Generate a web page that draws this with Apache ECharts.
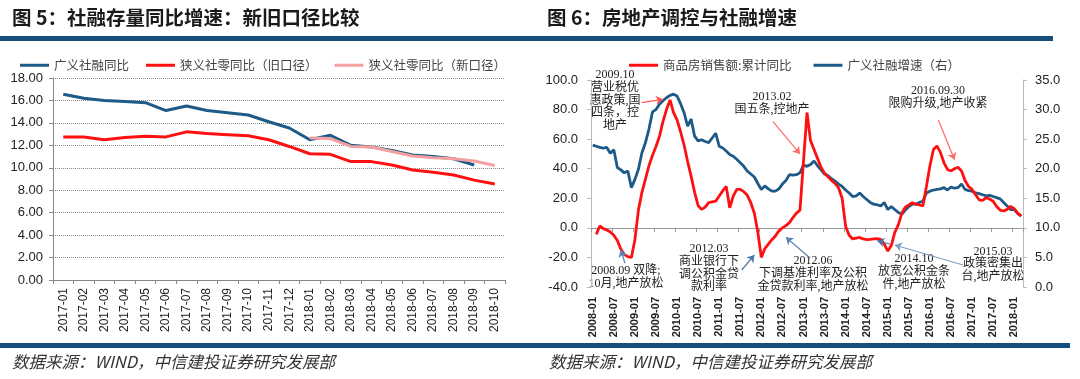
<!DOCTYPE html>
<html><head><meta charset="utf-8">
<script src="https://cdn.jsdelivr.net/npm/echarts@6/dist/echarts.min.js"></script>
<style>html,body{margin:0;padding:0;background:#fff}#c{width:1080px;height:379px}</style>
</head><body><div id="c"></div>
<script>
// ---------- Figure 5 data ----------
const leftCategories = ['2017-01','2017-02','2017-03','2017-04','2017-05','2017-06','2017-07','2017-08','2017-09','2017-10','2017-11','2017-12','2018-01','2018-02','2018-03','2018-04','2018-05','2018-06','2018-07','2018-08','2018-09','2018-10'];
const broadTSF = [16.55,16.2,16.0,15.9,15.8,15.1,15.5,15.1,14.9,14.7,14.1,13.55,12.5,12.9,12.0,11.85,11.55,11.15,11.0,10.8,10.25,null];
const narrowOld = [12.75,12.75,12.5,12.7,12.8,12.75,13.2,13.05,12.95,12.85,12.5,11.9,11.25,11.2,10.55,10.55,10.25,9.8,9.6,9.35,8.9,8.55];
const narrowNew = [null,null,null,null,null,null,null,null,null,null,null,null,12.65,12.6,11.9,11.85,11.45,11.05,10.9,10.8,10.6,10.2];
const leftTicks = {min:0, max:18, interval:2};

// ---------- Figure 6 data ----------
const rightCategories = [];
for (let y = 2008; y <= 2018; y++) for (let m = 1; m <= 12; m++) {
  if (y === 2018 && m > 3) break;
  rightCategories.push(y + '-' + (m < 10 ? '0' + m : m));
}
const houseSales = [null,-4.4,1.3,-0.5,-1.5,-2.8,-5,-8.5,-14.5,-18,-19.5,-20,
  -8,12,24,33,42,49,55,62,72,80,86.5,78,
  73,65,56,45,35,24,15,12.5,14,17,17.5,18,
  21.5,25,28,13.6,21.5,26,26,24.5,22,17,10,-3,
  -20,-14,-11,-8,-5.5,-2,0,1.5,3.5,7,10,12,
  45,78,59,53,47,41,37,34.5,32,30,27,20,
  1,-5,-7.5,-7,-6.5,-7.5,-8,-7.8,-7.5,-7.3,-7.8,-11,
  -15.7,-12,-3,2,10,14,15.5,17,16,15.5,14.8,28,
  42,53,55.4,51,44,39.5,38.5,40,41,38.5,32,28,
  26,22.5,19,18.5,20.4,19.5,18,14.5,12,11.4,12.5,14.5,
  13,10,8];
const tsfGrowth = [24.0,23.8,23.6,23.5,23.6,22.6,23.2,20.2,19.8,19.3,19.6,16.8,
  18.2,19.9,22.7,24.4,26.7,29.6,30.0,30.9,31.5,32.0,32.4,32.6,
  32.3,31.0,29.5,27.2,28.4,25.5,24.7,24.9,24.6,24.4,25.2,26.0,
  23.8,23.5,23.0,22.4,22.1,21.6,21.0,20.4,19.6,19.1,18.6,17.5,
  16.5,17.1,16.6,16.2,16.2,16.6,17.4,18.0,19.0,18.9,19.0,19.3,
  20.6,20.4,20.7,21.3,20.5,19.8,19.1,18.8,18.3,17.9,17.4,17.0,
  16.4,15.9,15.3,15.4,15.9,15.3,14.8,14.3,14.0,13.9,13.7,14.3,
  13.1,13.6,13.1,12.6,12.3,13.0,13.6,14.0,14.0,14.3,14.5,15.9,
  16.2,16.4,16.5,16.6,16.8,16.4,16.9,16.7,16.8,17.4,16.5,16.3,
  16.2,15.9,15.8,15.6,15.4,15.5,15.3,15.1,14.9,14.3,13.7,13.1,
  13.1,12.4,12.0];
const rightLeftTicks = {min:-40, max:100, interval:20};
const rightRightTicks = {min:0, max:35, interval:5};

const BLUE = '#1d5a87', RED = '#ff1010', PINK = '#f3a0a0';
const SANS = "'Liberation Sans', Arial, 'Noto Sans CJK SC'";
const CJK = "'Noto Sans CJK SC', sans-serif";
const SERIF = "'Liberation Serif', 'Noto Sans CJK SC', serif";

const chart = echarts.init(document.getElementById('c'), null, {renderer:'canvas'});

function annText(x, y, lines) {
  return lines.map((t, k) => ({
    type:'text', x: x, y: y + k * 12.7, silent:true,
    style:{ text:t, x:0, y:0, align:'center', verticalAlign:'middle',
      font:'12px ' + SERIF, fill:'#222' }
  }));
}

const arrows = [
  // tail at annotation text (pixel), head at a data location
  [{x:641.7, y:102.7, lineStyle:{color:'#ff5050'}}, {coord:[20, 87]}],
  [{x:773, y:121.7, lineStyle:{color:'#ff6a6a'}}, {coord:[59, 50]}],
  [{x:938.3, y:120, lineStyle:{color:'#ff6a6a'}}, {coord:[103, 46]}],
  [{x:625, y:263.3, lineStyle:{color:'#5a84b3'}}, {coord:[8, -15]}],
  [{x:741.7, y:270, lineStyle:{color:'#4a76a8'}}, {coord:[46, -18.4]}],
  [{x:810, y:258, lineStyle:{color:'#5a84b3'}}, {coord:[55, -6.4]}],
  [{x:890, y:244, lineStyle:{color:'#4a76a8'}}, {coord:[81, -8.7]}],
  [{x:963, y:265, lineStyle:{color:'#7f9fc4'}}, {coord:[86, -11.6]}]
];

const graphics = [
  {type:'rect', shape:{x:0, y:36, width:1053, height:5}, style:{fill:'#174f7c'}, silent:true},
  {type:'rect', shape:{x:0, y:343, width:1070, height:5}, style:{fill:'#174f7c'}, silent:true},
  {type:'text', x:12, y:18, style:{text:'图 5：社融存量同比增速：新旧口径比较', verticalAlign:'middle', font:'bold 19.5px ' + CJK, fill:'#1a1a1a'}},
  {type:'text', x:547, y:18, style:{text:'图 6：房地产调控与社融增速', verticalAlign:'middle', font:'bold 19.5px ' + CJK, fill:'#1a1a1a'}},
  {type:'text', x:12, y:362, style:{text:'数据来源：WIND，中信建投证券研究发展部', verticalAlign:'middle', font:'italic 16.5px ' + CJK, fill:'#333'}},
  {type:'text', x:549, y:362, style:{text:'数据来源：WIND，中信建投证券研究发展部', verticalAlign:'middle', font:'italic 16.5px ' + CJK, fill:'#333'}}
].concat(
  annText(615, 75, ['2009.10','营业税优','惠政策,国','四条，控','地产']),
  annText(772, 96.7, ['2013.02','国五条,控地产']),
  annText(938, 90.7, ['2016.09.30','限购升级,地产收紧']),
  annText(626, 271, ['2008.09 双降;','10月,地产放松']),
  annText(709, 249, ['2012.03','商业银行下','调公积金贷','款利率']),
  annText(813, 261, ['2012.06','下调基准利率及公积','金贷款利率,地产放松']),
  annText(914, 259, ['2014.10','放宽公积金条','件,地产放松']),
  annText(993, 251.5, ['2015.03','政策密集出','台,地产放松'])
);

const option = {
  animation:false,
  backgroundColor:'#fff',
  legend:[
    {left:15, top:54, itemWidth:29, itemHeight:3, itemGap:17, icon:'rect',
     textStyle:{fontSize:12.5, color:'#444', fontFamily:CJK},
     data:['广义社融同比','狭义社零同比（旧口径）','狭义社零同比（新口径）']},
    {left:624, top:54, itemWidth:29, itemHeight:3, itemGap:22, icon:'rect',
     textStyle:{fontSize:12.5, color:'#444', fontFamily:CJK},
     data:['商品房销售额:累计同比','广义社融增速（右）']}
  ],
  grid:[
    {left:53, top:78, width:452, height:202},
    {left:591, top:80, width:432, height:207}
  ],
  xAxis:[
    {type:'category', gridIndex:0, data:leftCategories, boundaryGap:true,
     axisLine:{lineStyle:{color:'#888'}},
     axisTick:{show:true, length:4, lineStyle:{color:'#888'}},
     axisLabel:{rotate:90, interval:0, fontSize:12, color:'#222', fontFamily:SANS, margin:8}},
    {type:'category', gridIndex:1, data:rightCategories, boundaryGap:true, position:'bottom',
     axisLine:{show:false, onZero:false}, axisTick:{show:false},
     axisLabel:{rotate:90, interval:5, fontSize:11, fontWeight:'bold', color:'#222', fontFamily:SANS, margin:10}},
    {type:'category', gridIndex:1, data:rightCategories, boundaryGap:true, position:'bottom',
     axisLine:{show:true, onZero:true, onZeroAxisIndex:1, lineStyle:{color:'#999'}},
     axisTick:{show:true, interval:5, length:4, lineStyle:{color:'#999'}},
     axisLabel:{show:false}}
  ],
  yAxis:[
    {type:'value', gridIndex:0, min:leftTicks.min, max:leftTicks.max, interval:leftTicks.interval,
     axisLine:{show:true, lineStyle:{color:'#888'}},
     axisTick:{show:true, length:4, lineStyle:{color:'#888'}},
     axisLabel:{formatter:v => v.toFixed(2), fontSize:13, color:'#222', fontFamily:SANS, margin:10},
     splitLine:{show:true, lineStyle:{type:'dotted', color:'#888', width:1}}},
    {type:'value', gridIndex:1, position:'left', min:rightLeftTicks.min, max:rightLeftTicks.max, interval:rightLeftTicks.interval,
     axisLine:{show:true, lineStyle:{color:'#bbb'}},
     axisTick:{show:true, length:4, lineStyle:{color:'#bbb'}},
     axisLabel:{formatter:v => v.toFixed(1), fontSize:13, color:'#222', fontFamily:SANS, margin:13},
     splitLine:{show:false}},
    {type:'value', gridIndex:1, position:'right', min:rightRightTicks.min, max:rightRightTicks.max, interval:rightRightTicks.interval,
     axisLine:{show:true, lineStyle:{color:'#bbb'}},
     axisTick:{show:true, length:4, lineStyle:{color:'#bbb'}},
     axisLabel:{formatter:v => v.toFixed(1), fontSize:13, color:'#222', fontFamily:SANS, margin:12},
     splitLine:{show:false}}
  ],
  series:[
    {name:'广义社融同比', type:'line', xAxisIndex:0, yAxisIndex:0, data:broadTSF, symbol:'none',
     lineStyle:{width:3, color:BLUE}, itemStyle:{color:BLUE}},
    {name:'狭义社零同比（旧口径）', type:'line', xAxisIndex:0, yAxisIndex:0, data:narrowOld, symbol:'none',
     lineStyle:{width:3, color:RED}, itemStyle:{color:RED}},
    {name:'狭义社零同比（新口径）', type:'line', xAxisIndex:0, yAxisIndex:0, data:narrowNew, symbol:'none',
     lineStyle:{width:3, color:PINK}, itemStyle:{color:PINK}},
    {name:'广义社融增速（右）', type:'line', xAxisIndex:1, yAxisIndex:2, data:tsfGrowth, symbol:'none',
     lineStyle:{width:2.8, color:BLUE}, itemStyle:{color:BLUE}},
    {name:'商品房销售额:累计同比', type:'line', xAxisIndex:1, yAxisIndex:1, data:houseSales, symbol:'none',
     connectNulls:true, lineStyle:{width:2.8, color:RED}, itemStyle:{color:RED},
     markLine:{silent:true, symbol:['none','arrow'], symbolSize:7, label:{show:false},
       emphasis:{disabled:true}, lineStyle:{type:'solid', width:1.2}, data:arrows}}
  ],
  graphic:graphics
};
chart.setOption(option);
</script></body></html>
